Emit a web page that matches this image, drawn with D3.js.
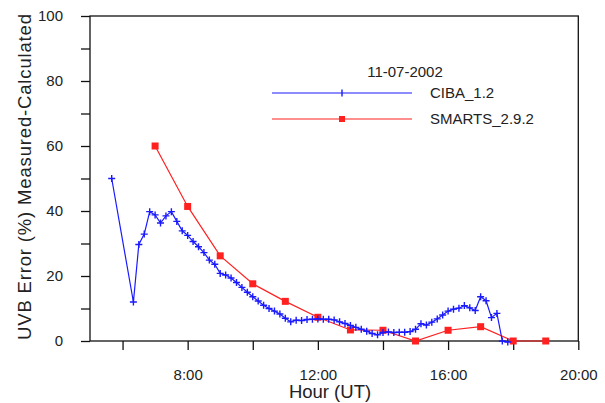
<!DOCTYPE html>
<html>
<head>
<meta charset="utf-8">
<script src="https://cdn.jsdelivr.net/npm/d3@7"></script>
<style>
  html, body { margin: 0; padding: 0; background: #fff; }
  svg { display: block; }
  text { font-family: "Liberation Sans", Arial, sans-serif; fill: #222; }
</style>
</head>
<body>
<svg id="chart" width="605" height="403"></svg>
<script>
// UVB error (measured vs calculated) for 11-07-2002
const chartDate = "11-07-2002";
const seriesNames = ["CIBA_1.2", "SMARTS_2.9.2"];

const cibaTimes = [
  "5:40", "6:20", "6:30", "6:40", "6:50", "7:00", "7:10", "7:20", "7:30", "7:40", "7:50",
  "8:00", "8:10", "8:20", "8:30", "8:40", "8:50", "9:00", "9:10", "9:20", "9:30", "9:40", "9:50",
  "10:00", "10:10", "10:20", "10:30", "10:40", "10:50", "11:00", "11:10", "11:20", "11:30", "11:40", "11:50",
  "12:00", "12:10", "12:20", "12:30", "12:40", "12:50", "13:00", "13:10", "13:20", "13:30", "13:40", "13:50",
  "14:00", "14:10", "14:20", "14:30", "14:40", "14:50", "15:00", "15:10", "15:20", "15:30", "15:40", "15:50",
  "16:00", "16:10", "16:20", "16:30", "16:40", "16:50", "17:00", "17:10", "17:20", "17:30", "17:40", "17:50"
];
const cibaValues = [
  50, 12, 29.7, 32.9, 39.8, 38.8, 36.3, 38.5, 39.8, 36.8, 33.9,
  32.5, 30.6, 29, 27.2, 24.9, 23.6, 20.8, 20.3, 19.4, 18.0, 16.5, 15.0,
  13.6, 12.3, 11.0, 10.0, 9.2, 8.3, 7.0, 5.9, 6.4, 6.3, 6.6, 6.7,
  6.8, 6.7, 6.7, 6.5, 5.9, 5.4, 4.8, 4.2, 3.6, 3.0, 2.3, 1.9,
  2.6, 2.8, 2.6, 2.7, 2.7, 2.9, 3.6, 5.3, 4.9, 5.8, 6.8, 8.0,
  9.2, 9.8, 10.1, 10.9, 10.2, 9.4, 13.6, 12.4, 7.2, 8.5, 0, -0.3
];

const smartsTimes = ["7:00", "8:00", "9:00", "10:00", "11:00", "12:00", "13:00", "14:00", "15:00", "16:00", "17:00", "18:00", "19:00"];
const smartsValues = [60, 41.4, 26.2, 17.6, 12.2, 7.3, 3.4, 3.3, 0, 3.3, 4.4, 0, 0];

const xTicks = [6, 8, 10, 12, 14, 16, 18, 20];
const xTickLabels = ["", "8:00", "", "12:00", "", "16:00", "", "20:00"];
const yTicks = [0, 10, 20, 30, 40, 50, 60, 70, 80, 90, 100];
const yTickLabels = ["0", "", "20", "", "40", "", "60", "", "80", "", "100"];

const xTitle = "Hour (UT)";
const yTitle = "UVB Error (%) Measured-Calculated";

const toHours = s => { const [h, m] = s.split(":").map(Number); return h + m / 60; };
const ciba = cibaTimes.map((t, i) => ({ h: toHours(t), v: cibaValues[i] }));
const smarts = smartsTimes.map((t, i) => ({ h: toHours(t), v: smartsValues[i] }));

const svg = d3.select("#chart");
const plotLeft = 90, plotRight = 578.3, plotTop = 16, plotBottom = 341;

const x = d3.scaleLinear().domain([5, 20]).range([plotLeft, plotRight]);
const y = d3.scaleLinear().domain([0, 100]).range([plotBottom, plotTop]);

const blue = "#1a1aff", red = "#ff2020";

// frame
svg.append("rect")
  .attr("x", plotLeft).attr("y", plotTop)
  .attr("width", plotRight - plotLeft).attr("height", plotBottom - plotTop)
  .attr("fill", "none").attr("stroke", "#111").attr("stroke-width", 1.3);

// axes
const xAxis = d3.axisBottom(x).tickValues(xTicks)
  .tickFormat((d, i) => xTickLabels[i]).tickSize(9).tickPadding(19);
const gx = svg.append("g").attr("transform", `translate(0,${plotBottom})`).call(xAxis);
gx.select(".domain").remove();
gx.selectAll("line").attr("stroke", "#111").attr("stroke-width", 1.3);
gx.selectAll("text").attr("font-size", 15).attr("fill", "#222")
  .attr("font-family", "Liberation Sans, Arial, sans-serif");

const yAxis = d3.axisLeft(y).tickValues(yTicks)
  .tickFormat((d, i) => yTickLabels[i]).tickSize(9).tickPadding(18);
const gy = svg.append("g").attr("transform", `translate(${plotLeft},0)`).call(yAxis);
gy.select(".domain").remove();
gy.selectAll("line").attr("stroke", "#111").attr("stroke-width", 1.3);
gy.selectAll("text").attr("font-size", 15).attr("fill", "#222")
  .attr("font-family", "Liberation Sans, Arial, sans-serif");

// axis titles
svg.append("text").attr("x", 330).attr("y", 398)
  .attr("text-anchor", "middle").attr("font-size", 18.5).text(xTitle);
svg.append("text")
  .attr("transform", "translate(31,177) rotate(-90)")
  .attr("text-anchor", "middle").attr("font-size", 18.5)
  .attr("textLength", 326).attr("lengthAdjust", "spacing").text(yTitle);

const line = d3.line().x(d => x(d.h)).y(d => y(d.v));

// SMARTS series
svg.append("path").datum(smarts).attr("d", line)
  .attr("fill", "none").attr("stroke", red).attr("stroke-width", 1.2);
svg.append("g").selectAll("rect").data(smarts).join("rect")
  .attr("x", d => x(d.h) - 3.5).attr("y", d => y(d.v) - 3.5)
  .attr("width", 7).attr("height", 7).attr("fill", red);

// CIBA series
svg.append("path").datum(ciba).attr("d", line)
  .attr("fill", "none").attr("stroke", blue).attr("stroke-width", 1.2);
svg.append("g").selectAll("path").data(ciba).join("path")
  .attr("transform", d => `translate(${x(d.h)},${y(d.v)})`)
  .attr("d", "M-3.5,0H3.5M0,-3.5V3.5")
  .attr("stroke", blue).attr("stroke-width", 1.4).attr("fill", "none");

// legend
svg.append("text").attr("x", 405).attr("y", 77)
  .attr("text-anchor", "middle").attr("font-size", 15).text(chartDate);

const legend = [
  { name: seriesNames[0], color: blue, y: 93, marker: "plus" },
  { name: seriesNames[1], color: red, y: 119, marker: "square" }
];
legend.forEach(l => {
  svg.append("line").attr("x1", 272).attr("x2", 412).attr("y1", l.y).attr("y2", l.y)
    .attr("stroke", l.color).attr("stroke-width", 1.2);
  if (l.marker === "plus") {
    svg.append("path").attr("transform", `translate(342,${l.y})`)
      .attr("d", "M0,-3.5V3.5").attr("stroke", l.color).attr("stroke-width", 1.4);
  } else {
    svg.append("rect").attr("x", 339).attr("y", l.y - 3).attr("width", 6).attr("height", 6)
      .attr("fill", l.color);
  }
  svg.append("text").attr("x", 430).attr("y", l.y + 5).attr("font-size", 15).text(l.name);
});
</script>
</body>
</html>
